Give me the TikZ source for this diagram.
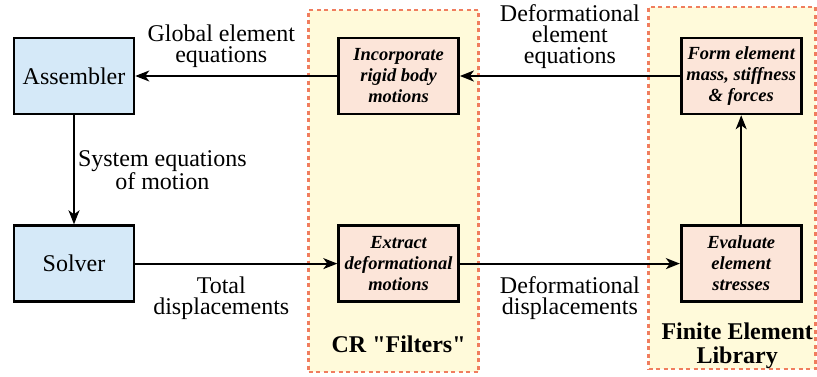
\documentclass[tikz,border=0pt]{standalone}
\usepackage{fontspec}
\setmainfont{Liberation Serif}
\usetikzlibrary{positioning,arrows.meta}

\definecolor{solverblue}{HTML}{D5E9F8}
\definecolor{stepfill}{HTML}{FCE5D9}
\definecolor{groupfill}{HTML}{FFFADA}
\definecolor{groupline}{HTML}{F07D5E}

\begin{document}
\begin{tikzpicture}[
  box/.style={
    draw,
    line width=2.6pt,
    align=center,
    minimum width=120pt,
    minimum height=76pt,
    inner sep=2pt
  },
  main/.style={box, fill=solverblue, font=\fontsize{24}{21.5}\selectfont},
  task/.style={box, fill=stepfill, font=\fontsize{18.5}{21}\selectfont\bfseries\itshape},
  group/.style={
    draw=groupline,
    fill=groupfill,
    line width=2.2pt,
    dash pattern=on 4pt off 3.5pt,
    minimum width=170pt,
    minimum height=362pt
  },
  grouplabel/.style={align=center, inner sep=0pt, font=\fontsize{24}{24}\selectfont\bfseries},
  flow/.style={align=center, inner sep=0pt, font=\fontsize{24}{21}\selectfont},
  line/.style={draw, line width=2pt, -{Stealth[length=14pt, width=11pt, inset=4pt]}}
]
\useasboundingbox (0pt,0pt) rectangle (817pt,376pt);

% shaded frames for the two groups
\node[group] (crgroup) at (393.5pt,185pt) {};
\node[group, minimum width=167pt] (fegroup) at (732pt,188pt) {};

\node[main] (assembler) at (74pt,300pt) {Assembler};
\node[main, below=109pt of assembler] (solver) {Solver};

\node[task, right=202pt of assembler] (incorporate) {Incorporate\\rigid body\\motions};
\node[task, below=109pt of incorporate] (extract) {Extract\\deformational\\motions};

\node[task, right=220pt of incorporate] (form) {Form element\\mass, stiffness\\\& forces};
\node[task, below=109pt of form] (evaluate) {Evaluate\\element\\stresses};

\node[grouplabel, below=33pt of extract] (crlabel) {CR \textquotedbl Filters\textquotedbl};
\node[grouplabel, below=20pt of evaluate, xshift=-4pt] (felabel) {Finite Element\\Library};

\draw[line] (incorporate) -- (assembler)
  node[flow, midway, above=7pt, xshift=-15pt] (globaleq) {Global element\\equations};
\draw[line] (assembler) -- (solver)
  node[flow, midway, right=3pt] (systemeq) {System equations\\of motion};
\draw[line] (solver) -- (extract)
  node[flow, midway, below=12pt, xshift=-15pt] (totaldisp) {Total\\displacements};
\draw[line] (extract) -- (evaluate)
  node[flow, midway, below=12pt] (defdisp) {Deformational\\displacements};
\draw[line] (evaluate) -- (form);
\draw[line] (form) -- (incorporate)
  node[flow, midway, above=6pt] (defeq) {Deformational\\element\\equations};
\end{tikzpicture}
\end{document}
